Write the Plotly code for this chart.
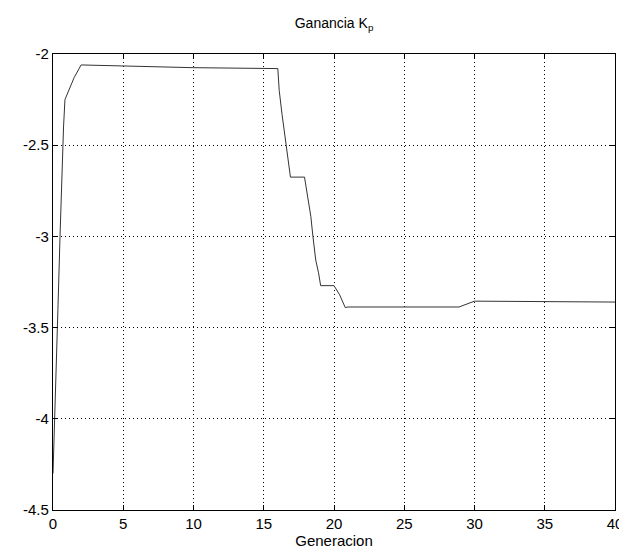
import plotly.graph_objects as go

# Data
generacion = [0.0, 0.1, 0.2, 0.35, 0.5, 0.6, 0.75, 0.85, 1.5, 2.0, 5.0, 10.0, 16.0,
              16.1, 16.3, 16.6, 16.8, 16.9, 17.9, 18.35, 18.5, 18.7, 18.9, 19.05,
              20.0, 20.4, 20.8, 21.0, 25.0, 28.9, 30.0, 35.0, 40.0]
ganancia_kp = [-4.3, -4.0, -3.7, -3.4, -3.0, -2.7, -2.4, -2.25, -2.13, -2.06, -2.065, -2.075, -2.08,
               -2.2, -2.33, -2.5, -2.59, -2.675, -2.675, -2.89, -3.0, -3.13, -3.2, -3.27,
               -3.27, -3.32, -3.39, -3.387, -3.387, -3.387, -3.355, -3.358, -3.36]

x_ticks = [0, 5, 10, 15, 20, 25, 30, 35, 40]
y_ticks = [-4.5, -4, -3.5, -3, -2.5, -2]
y_ticklabels = ["-4.5", "-4", "-3.5", "-3", "-2.5", "-2"]

fig = go.Figure()
fig.add_trace(go.Scatter(x=generacion, y=ganancia_kp, mode="lines",
                         line=dict(color="#333333", width=1), showlegend=False))

axis_common = dict(showline=True, linecolor="black", linewidth=1.3, mirror="ticks",
                   ticks="inside", ticklen=5, tickcolor="black",
                   showgrid=True, gridcolor="black", griddash="1px,3px", gridwidth=1.2,
                   zeroline=False,
                   tickfont=dict(family="Liberation Sans, Arial", size=15, color="black"))

fig.update_layout(
    width=627, height=551,
    margin=dict(l=45, r=12, t=46, b=49),
    paper_bgcolor="white", plot_bgcolor="white",
    title=dict(text="Ganancia K<sub>p</sub>", x=0.52, xanchor="center", y=0.972, yanchor="middle",
               font=dict(family="Liberation Sans, Arial", size=14, color="black")),
    xaxis=dict(range=[0, 40], tickvals=x_ticks, ticktext=[str(v) for v in x_ticks],
               title=dict(text="Generacion", standoff=3,
                          font=dict(family="Liberation Sans, Arial", size=15, color="black")),
               **axis_common),
    yaxis=dict(range=[-4.5, -2], tickvals=y_ticks, ticktext=y_ticklabels, **axis_common),
)

fig.write_html("out.html")
